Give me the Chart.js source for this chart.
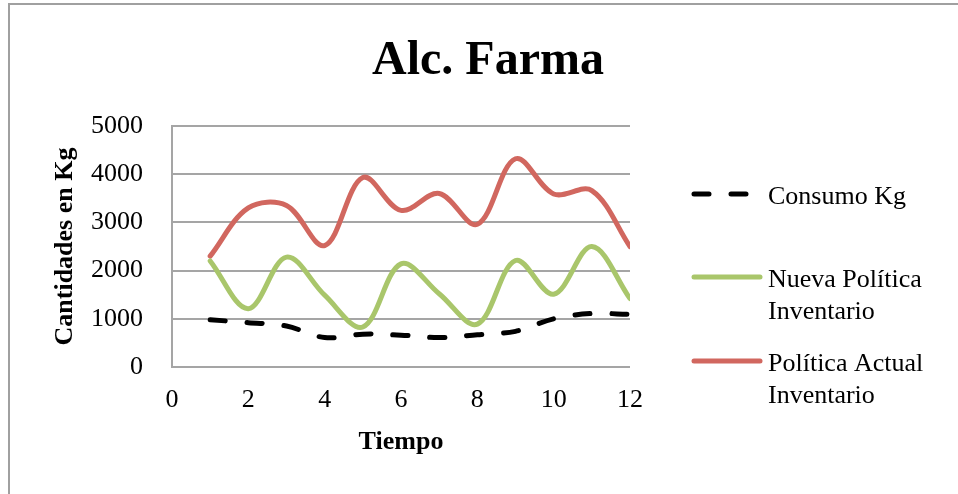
<!DOCTYPE html>
<html>
<head>
<meta charset="utf-8">
<script src="https://cdn.jsdelivr.net/npm/chart.js@4.4.1/dist/chart.umd.min.js"></script>
<style>
  html, body { margin: 0; padding: 0; background: #fff; }
  #wrap { position: relative; width: 958px; height: 494px; overflow: hidden; }
  #frame { position: absolute; left: 8px; top: 3px; width: 1200px; height: 800px;
           border-top: 2px solid #a0a0a0; border-left: 2px solid #a0a0a0; }
  #alc-chart { position: absolute; left: 0; top: 0; }
</style>
</head>
<body>
<div id="wrap">
  <div id="frame"></div>
  <canvas id="alc-chart" width="958" height="494"></canvas>
</div>
<script>
// datos
var tiempo = [1, 2, 3, 4, 5, 6, 7, 8, 9, 10, 11, 12];
var consumoKg = [980, 920, 850, 610, 680, 660, 610, 670, 740, 1000, 1110, 1090];
var nuevaPolitica = [2200, 1210, 2280, 1490, 830, 2140, 1520, 890, 2210, 1510, 2500, 1420];
var politicaActual = [2300, 3300, 3350, 2520, 3930, 3250, 3600, 2960, 4320, 3590, 3660, 2500];
var seriesNames = ['Consumo Kg', 'Nueva Política Inventario', 'Política Actual Inventario'];
var xTicks = [0, 2, 4, 6, 8, 10, 12];
var yTicks = [0, 1000, 2000, 3000, 4000, 5000];
var chartTitle = 'Alc. Farma';

function toPoints(ys) {
  return ys.map(function(v, i) { return { x: tiempo[i], y: v }; });
}

var serif = "'Liberation Serif', 'Times New Roman', serif";
var colorConsumo = '#000000';
var colorNueva = '#a9c66b';
var colorActual = '#d1675f';

// titulo centrado sobre todo el grafico + leyenda a la derecha, como en Excel
var excelDecor = {
  id: 'excelDecor',
  afterDraw: function(chart) {
    var ctx = chart.ctx;
    var rows = [194, 277, 361];
    ctx.save();
    ctx.fillStyle = '#000';
    ctx.textAlign = 'center';
    ctx.textBaseline = 'middle';
    ctx.font = 'bold 48px ' + serif;
    ctx.fillText(chartTitle, 488, 62);

    ctx.font = '26px ' + serif;
    ctx.textAlign = 'left';
    chart.data.datasets.forEach(function(ds, i) {
      var y = rows[i];
      ctx.beginPath();
      ctx.strokeStyle = ds.borderColor;
      ctx.lineWidth = ds.borderWidth;
      ctx.lineCap = 'round';
      ctx.setLineDash(ds.borderDash || []);
      ctx.moveTo(694, y);
      ctx.lineTo(760, y);
      ctx.stroke();
      ctx.setLineDash([]);
      var words = ds.label.split(' ');
      var lines = ds.label.length > 12 ? [words.slice(0, 2).join(' '), words.slice(2).join(' ')] : [ds.label];
      lines.forEach(function(t, j) {
        ctx.fillText(t, 768, y + 3 + j * 32);
      });
    });
    ctx.restore();
  }
};

var alcData = {
  datasets: [{
    label: seriesNames[0],
    data: toPoints(consumoKg),
    borderColor: colorConsumo,
    borderWidth: 5,
    borderDash: [15, 22],
    borderCapStyle: 'round',
    tension: 0.35,
    pointRadius: 0
  }, {
    label: seriesNames[1],
    data: toPoints(nuevaPolitica),
    borderColor: colorNueva,
    borderWidth: 5,
    borderCapStyle: 'round',
    tension: 0.35,
    pointRadius: 0
  }, {
    label: seriesNames[2],
    data: toPoints(politicaActual),
    borderColor: colorActual,
    borderWidth: 5,
    borderCapStyle: 'round',
    tension: 0.35,
    pointRadius: 0
  }]
};

var alcOptions = {
  responsive: false,
  animation: false,
  layout: { padding: { left: 0, right: 328, top: 126, bottom: 0 } },
  plugins: {
    legend: { display: false },
    tooltip: { enabled: false },
    title: { display: false }
  },
  scales: {
    x: {
      type: 'linear',
      min: 0,
      max: 12,
      afterBuildTicks: function(scale) {
        scale.ticks = xTicks.map(function(v) { return { value: v }; });
      },
      afterFit: function(scale) { scale.height = 127; },
      grid: { display: false, drawTicks: false },
      border: { display: false },
      ticks: {
        color: '#000', padding: 18, maxRotation: 0, font: { family: serif, size: 26 },
        callback: function(v) { return String(v); }
      },
      title: {
        display: true,
        text: 'Tiempo',
        color: '#000',
        font: { family: serif, size: 26, weight: 'bold', lineHeight: 1.2 },
        padding: { top: 0, bottom: 36 }
      }
    },
    y: {
      min: 0,
      max: 5000,
      afterBuildTicks: function(scale) {
        scale.ticks = yTicks.map(function(v) { return { value: v }; });
      },
      afterFit: function(scale) { scale.width = 172; },
      grid: { color: '#a5a5a5', lineWidth: 2, drawTicks: false },
      border: { display: true, color: '#a5a5a5', width: 2 },
      ticks: {
        color: '#000', padding: 29, font: { family: serif, size: 26 },
        callback: function(v) { return String(v); }
      },
      title: {
        display: true,
        text: 'Cantidades en Kg',
        color: '#000',
        font: { family: serif, size: 26, weight: 'bold', lineHeight: 1.2 },
        padding: { top: 50, bottom: 0 }
      }
    }
  }
};

var alcCanvas = document.getElementById('alc-chart').getContext('2d');
var alcChart = new Chart(alcCanvas, {
  type: 'line',
  data: alcData,
  options: alcOptions,
  plugins: [excelDecor]
});
</script>
</body>
</html>
